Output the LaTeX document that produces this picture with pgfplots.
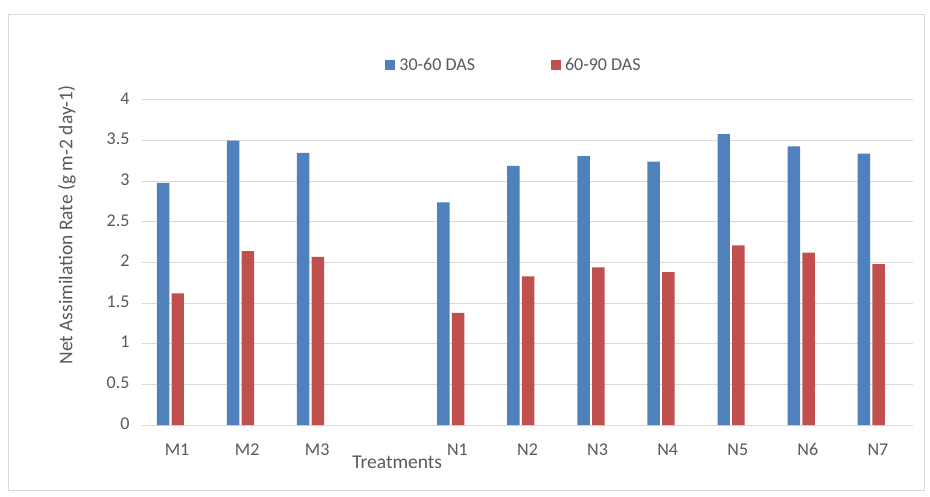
\documentclass[border=0pt]{standalone}
\usepackage{pgfplots}
\pgfplotsset{compat=1.18}
\usepackage{fontspec}
\setmainfont{Carlito}
\definecolor{blueS}{HTML}{4F81BD}
\definecolor{redS}{HTML}{C0504D}
\definecolor{txt}{HTML}{595959}
\definecolor{grd}{HTML}{D9D9D9}
\begin{document}
\begin{tikzpicture}[x=1pt,y=1pt]
\useasboundingbox (0,0) rectangle (930,496);
\draw[grd, line width=0.8pt] (8,6) rectangle (924,482);
\begin{axis}[
  at={(142pt,71pt)}, anchor=south west,
  scale only axis, width=771pt, height=325pt,
  xmin=-0.5, xmax=10.5, ymin=0, ymax=4,
  xtick={0,1,2,4,5,6,7,8,9,10},
  xticklabels={{M1},{M2},{M3},{N1},{N2},{N3},{N4},{N5},{N6},{N7}},
  ytick={0,0.5,1,1.5,2,2.5,3,3.5,4},
  yticklabels={0,0.5,1,1.5,2,2.5,3,3.5,4},
  axis lines*=left,
  x axis line style={draw=grd, line width=1pt},
  y axis line style={draw=none},
  major tick length=0pt,
  ymajorgrids, major grid style={draw=grd, line width=1pt},
  font=\fontsize{18}{21}\selectfont\color{txt},
  tick label style={font=\fontsize{18}{21}\selectfont, text=txt},
  typeset ticklabels with strut,
  xticklabel style={anchor=base, yshift=-30pt},
  yticklabel style={xshift=-9pt},
  xlabel={Treatments},
  ylabel={Net Assimilation Rate (g m-2 day-1)},
  every axis x label/.style={at={(axis description cs:0.331,-0.114)}, anchor=center, font=\fontsize{19.5}{22}\selectfont, text=txt},
  every axis y label/.style={at={(axis description cs:-0.0973,0.615)}, rotate=90, anchor=center, font=\fontsize{19.5}{22}\selectfont, text=txt},
  legend style={at={(axis description cs:0.4825,1.108)}, anchor=center, draw=none, fill=none,
    font=\fontsize{18}{21}\selectfont, text=txt, legend columns=2,
    /tikz/every even column/.append style={column sep=74pt}},
  legend image code/.code={\fill[#1] (0pt,-5pt) rectangle (10pt,5pt); \path (12pt,0pt);},
]
\addplot[ybar, bar width=0.178, bar shift=-0.2, fill=blueS, draw=none] coordinates {
(0,2.98) (1,3.50) (2,3.35) (4,2.74) (5,3.19) (6,3.31) (7,3.24) (8,3.58) (9,3.43) (10,3.34)};
\addlegendentry{30-60 DAS}
\addplot[ybar, bar width=0.178, bar shift=0.01, fill=redS, draw=none] coordinates {
(0,1.62) (1,2.14) (2,2.07) (4,1.38) (5,1.83) (6,1.94) (7,1.88) (8,2.21) (9,2.12) (10,1.98)};
\addlegendentry{60-90 DAS}
\end{axis}
\end{tikzpicture}
\end{document}
